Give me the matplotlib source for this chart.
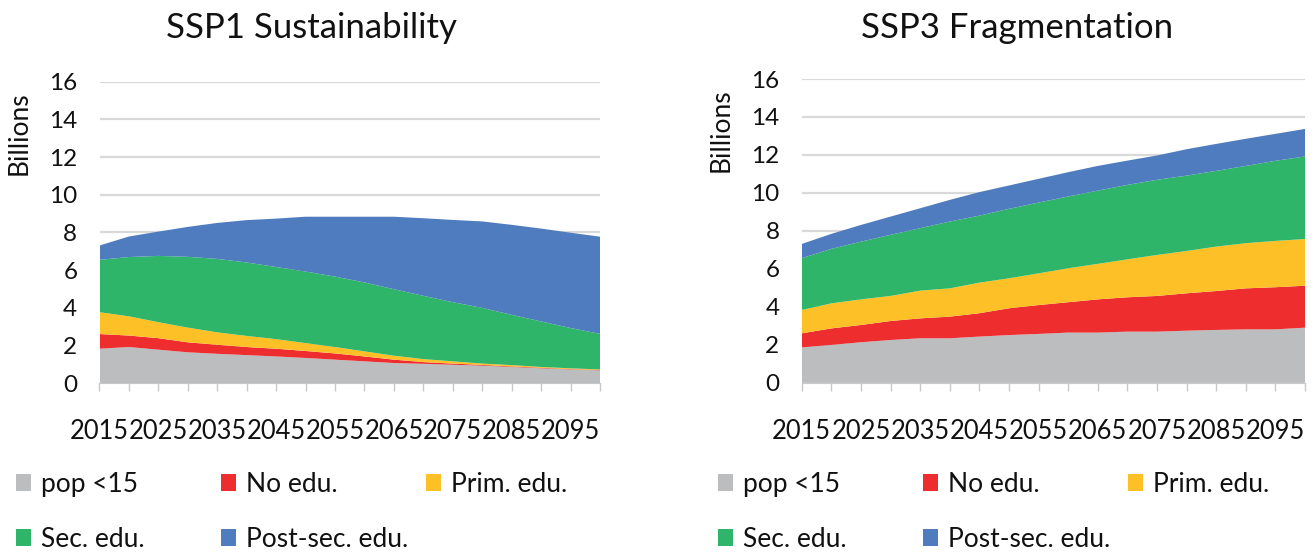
import matplotlib
matplotlib.use("Agg")
import matplotlib.pyplot as plt
from matplotlib.patches import Patch

plt.rcParams['font.family'] = ['Lato', 'DejaVu Sans']

# Population by education level, billions (2015-2100, 5-year steps)
years = list(range(2015, 2101, 5))
label_years = list(range(2015, 2100, 10))

categories = ["pop <15", "No edu.", "Prim. edu.", "Sec. edu.", "Post-sec. edu."]
colors = ["#BBBDBF", "#EE2D2F", "#FDC127", "#2EB56A", "#4E7CBE"]

ssp1_pop15 = [1.82, 1.91, 1.77, 1.63, 1.55, 1.48, 1.41, 1.33, 1.24, 1.15, 1.06, 1.02, 0.97, 0.92, 0.85, 0.78, 0.72, 0.67]
ssp1_noedu = [0.78, 0.61, 0.61, 0.53, 0.48, 0.43, 0.41, 0.37, 0.33, 0.26, 0.18, 0.09, 0.06, 0.04, 0.03, 0.03, 0.02, 0.02]
ssp1_prim = [1.16, 1.02, 0.85, 0.78, 0.66, 0.59, 0.51, 0.42, 0.34, 0.27, 0.21, 0.16, 0.12, 0.07, 0.07, 0.04, 0.04, 0.03]
ssp1_sec = [2.78, 3.15, 3.52, 3.76, 3.90, 3.90, 3.83, 3.80, 3.74, 3.66, 3.53, 3.36, 3.14, 2.96, 2.67, 2.42, 2.14, 1.89]
ssp1_post = [0.76, 1.09, 1.29, 1.59, 1.91, 2.25, 2.57, 2.91, 3.18, 3.49, 3.85, 4.12, 4.37, 4.59, 4.78, 4.93, 5.06, 5.16]

ssp3_pop15 = [1.86, 1.99, 2.13, 2.25, 2.34, 2.34, 2.43, 2.51, 2.57, 2.64, 2.64, 2.69, 2.69, 2.74, 2.78, 2.81, 2.81, 2.90]
ssp3_noedu = [0.74, 0.87, 0.91, 1.00, 1.05, 1.14, 1.23, 1.41, 1.52, 1.60, 1.75, 1.81, 1.88, 1.97, 2.05, 2.16, 2.22, 2.21]
ssp3_prim = [1.23, 1.32, 1.35, 1.32, 1.46, 1.49, 1.61, 1.58, 1.67, 1.79, 1.87, 2.00, 2.16, 2.23, 2.34, 2.38, 2.44, 2.46]
ssp3_sec = [2.73, 2.87, 3.04, 3.22, 3.29, 3.52, 3.53, 3.66, 3.73, 3.78, 3.86, 3.92, 3.96, 3.97, 3.99, 4.07, 4.22, 4.35]
ssp3_post = [0.75, 0.79, 0.88, 0.96, 1.05, 1.14, 1.24, 1.23, 1.25, 1.28, 1.30, 1.28, 1.28, 1.39, 1.42, 1.43, 1.42, 1.45]

W, H = 1314, 552
TEXT = '#111111'
fig = plt.figure(figsize=(W / 100, H / 100), dpi=100)


def px_axes(x0, x1, y_bottom, y_top):
    return fig.add_axes([x0 / W, 1 - y_bottom / H, (x1 - x0) / W, (y_bottom - y_top) / H])


def draw_panel(ax, title, title_x, series, legend_x):
    ax.stackplot(years, *series, colors=colors, labels=categories, linewidth=0)
    ax.set_xlim(2015, 2100)
    ax.set_ylim(0, 16)
    ax.set_yticks(range(0, 17, 2))
    ax.set_xticks(years)
    ax.set_xticklabels([str(y) if y in label_years else "" for y in years])
    ax.grid(axis='y', color='#D9D9D9', linewidth=1.6)
    ax.set_axisbelow(True)
    for side in ['top', 'right', 'left']:
        ax.spines[side].set_visible(False)
    ax.spines['bottom'].set_color('#C8C8C8')
    ax.tick_params(axis='y', length=0, pad=16, labelsize=17.5, labelcolor=TEXT)
    ax.tick_params(axis='x', length=6, width=1, color='#C8C8C8', pad=20,
                   labelsize=18.4, labelcolor=TEXT)
    ax.set_ylabel("Billions", fontsize=19, color=TEXT)
    ax.yaxis.set_label_coords(-0.136, 0.83)

    fig.text(title_x / W, 1 - 38 / H, title, ha='center', va='baseline',
             fontsize=25, color=TEXT)

    # legend laid out in three columns, filled row by row
    handles = [Patch(facecolor=c, edgecolor='none') for c in colors]
    columns = [[0, 3], [1, 4], [2]]
    col_offsets = [0, 205, 410]
    for idx, dx in zip(columns, col_offsets):
        leg = fig.legend([handles[i] for i in idx], [categories[i] for i in idx],
                         loc='upper left', bbox_to_anchor=((legend_x + dx) / W, 1 - 472 / H),
                         frameon=False, fontsize=19, handlelength=0.57, handleheight=0.63,
                         handletextpad=0.38, labelspacing=1.14, borderpad=0, borderaxespad=0)
        for t in leg.get_texts():
            t.set_color(TEXT)


ax1 = px_axes(99.5, 600, 383, 81.7)
ax2 = px_axes(801.7, 1305, 382.7, 79)

draw_panel(ax1, "SSP1 Sustainability", 311,
           [ssp1_pop15, ssp1_noedu, ssp1_prim, ssp1_sec, ssp1_post], 16)
draw_panel(ax2, "SSP3 Fragmentation", 1017,
           [ssp3_pop15, ssp3_noedu, ssp3_prim, ssp3_sec, ssp3_post], 718)

fig.savefig("out.png", dpi=100)
